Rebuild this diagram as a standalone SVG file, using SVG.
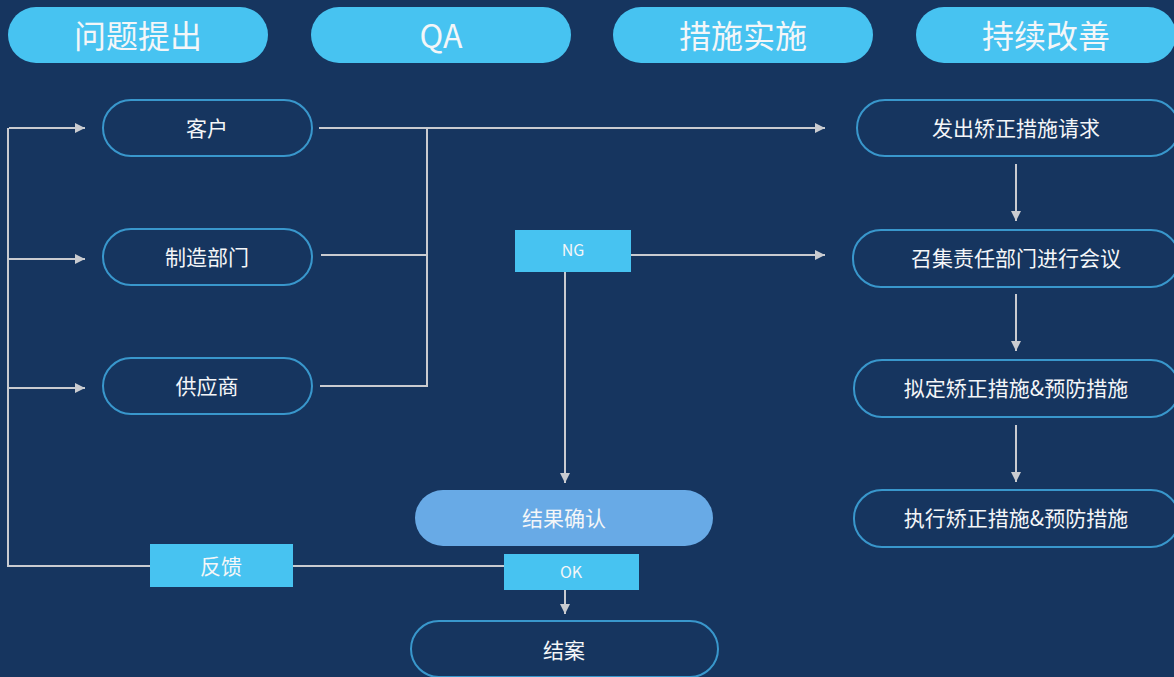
<svg xmlns="http://www.w3.org/2000/svg" width="1174" height="677" viewBox="0 0 1174 677">
<style>
text{font-family:"Noto Sans CJK SC","Noto Sans",sans-serif;fill:#f4f6f8;text-anchor:middle;dominant-baseline:central}
.hdr{fill:#47c3f1}
.hdr-t{font-size:32px}
.node{fill:#16355f;stroke:#3997cc;stroke-width:2}
.nt{font-size:21px}
.box{fill:#47c3f1}
.bt{font-size:16px}
.ln{fill:none;stroke:#c9cbd0;stroke-width:2}
</style>
<defs>
<marker id="ah" viewBox="0 0 10 10" refX="10" refY="5" markerWidth="10" markerHeight="10" markerUnits="userSpaceOnUse" orient="auto">
<path d="M0,0 L10,5 L0,10 z" fill="#c9cbd0"/>
</marker>
</defs>
<rect width="1174" height="677" fill="#16355f"/>
<g id="headers">
<g id="h1"><rect class="hdr" x="8" y="7" width="260" height="56" rx="28"/><text class="hdr-t" x="138" y="34">问题提出</text></g>
<g id="h2"><rect class="hdr" x="311" y="7" width="260" height="56" rx="28"/><text class="hdr-t" x="441" y="34">QA</text></g>
<g id="h3"><rect class="hdr" x="613" y="7" width="260" height="56" rx="28"/><text class="hdr-t" x="743" y="34">措施实施</text></g>
<g id="h4"><rect class="hdr" x="916" y="7" width="260" height="56" rx="28"/><text class="hdr-t" x="1046" y="34">持续改善</text></g>
</g>
<g id="connectors">
<polyline class="ln" points="504,566 8,566 8,128"/>
<line class="ln" x1="9" y1="128" x2="85" y2="128" marker-end="url(#ah)"/>
<line class="ln" x1="9" y1="259" x2="85" y2="259" marker-end="url(#ah)"/>
<line class="ln" x1="9" y1="388" x2="85" y2="388" marker-end="url(#ah)"/>
<line class="ln" x1="319" y1="128" x2="825" y2="128" marker-end="url(#ah)"/>
<line class="ln" x1="321" y1="255" x2="427" y2="255"/>
<polyline class="ln" points="320,386 427,386 427,128"/>
<line class="ln" x1="631" y1="255" x2="825" y2="255" marker-end="url(#ah)"/>
<line class="ln" x1="565" y1="272" x2="565" y2="483" marker-end="url(#ah)"/>
<line class="ln" x1="565" y1="590" x2="565" y2="614" marker-end="url(#ah)"/>
<line class="ln" x1="1016" y1="164" x2="1016" y2="221" marker-end="url(#ah)"/>
<line class="ln" x1="1016" y1="294" x2="1016" y2="351" marker-end="url(#ah)"/>
<line class="ln" x1="1016" y1="425" x2="1016" y2="482" marker-end="url(#ah)"/>
</g>
<g id="n-kehu"><rect class="node" x="103" y="100" width="209" height="56" rx="28"/><text class="nt" x="207" y="127">客户</text></g>
<g id="n-zhizao"><rect class="node" x="103" y="229" width="209" height="56" rx="28"/><text class="nt" x="207" y="256">制造部门</text></g>
<g id="n-gongying"><rect class="node" x="103" y="358" width="209" height="56" rx="28"/><text class="nt" x="207" y="385">供应商</text></g>
<g id="n-ng"><rect class="box" x="515" y="230" width="116" height="42"/><text class="bt" x="573" y="249">NG</text></g>
<g id="n-jieguo"><rect x="415" y="490" width="298" height="56" rx="28" fill="#68aae6"/><text class="nt" x="564" y="517">结果确认</text></g>
<g id="n-fankui"><rect class="box" x="150" y="544" width="143" height="43"/><text class="nt" x="221" y="565">反馈</text></g>
<g id="n-ok"><rect class="box" x="504" y="554" width="135" height="36"/><text class="bt" x="571" y="571">OK</text></g>
<g id="n-jiean"><rect class="node" x="411" y="621" width="307" height="56" rx="28"/><text class="nt" x="564" y="649">结案</text></g>
<g id="n-fachu"><rect class="node" x="857" y="100" width="322" height="56" rx="28"/><text class="nt" x="1016" y="127">发出矫正措施请求</text></g>
<g id="n-zhaoji"><rect class="node" x="853" y="230" width="326" height="57" rx="28"/><text class="nt" x="1016" y="257">召集责任部门进行会议</text></g>
<g id="n-niding"><rect class="node" x="854" y="360" width="325" height="57" rx="28"/><text class="nt" x="1016" y="387">拟定矫正措施&amp;预防措施</text></g>
<g id="n-zhixing"><rect class="node" x="854" y="490" width="325" height="57" rx="28"/><text class="nt" x="1016" y="517">执行矫正措施&amp;预防措施</text></g>
</svg>
